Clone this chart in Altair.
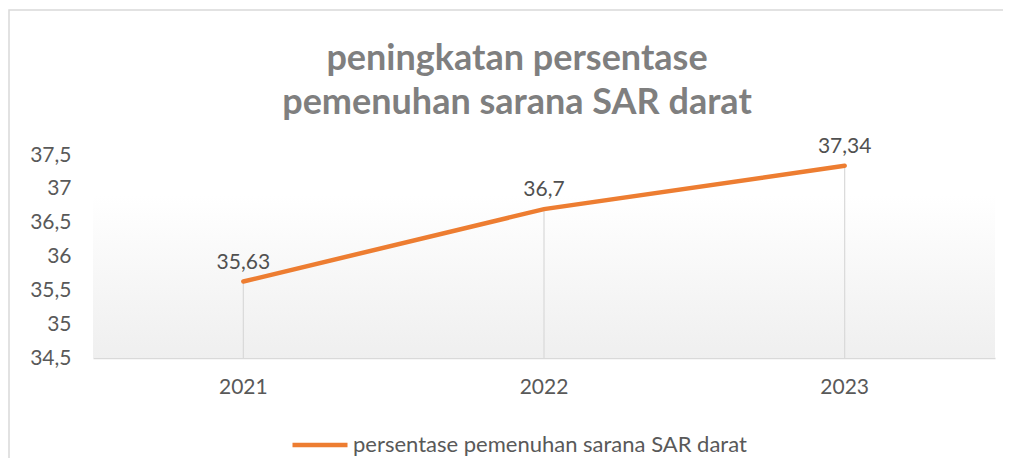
import altair as alt
import pandas as pd

years = ["2021", "2022", "2023"]
values = [35.63, 36.7, 37.34]
series_name = "persentase pemenuhan sarana SAR darat"
y_ticks = [34.5, 35, 35.5, 36, 36.5, 37, 37.5]
title_lines = ["peningkatan persentase", "pemenuhan sarana SAR darat"]

df = pd.DataFrame({"year": years, "value": values, "series": [series_name] * len(years)})
bg = pd.DataFrame({"k": [0]})

W, H = 902, 203
FONT = "Lato"
ORANGE = "#ED7D31"

x_enc = alt.X("year:N", title=None,
              axis=alt.Axis(labelAngle=0, ticks=False, domainColor="#d9d9d9", domainWidth=1.5,
                            labelFontSize=21, labelColor="#595959", labelPadding=18, labelFont=FONT))
y_enc = alt.Y("value:Q", title=None,
              scale=alt.Scale(domain=[34.5, 37.5], nice=False, zero=False),
              axis=alt.Axis(values=y_ticks, grid=False, domain=False, ticks=False,
                            labelFontSize=21, labelColor="#595959", labelPadding=22, labelFont=FONT,
                            labelExpr="replace(format(datum.value, '.1~f'), '.', ',')"))

border = alt.Chart(bg).mark_rect(filled=False, stroke="#d9d9d9", strokeWidth=1.5, clip=False).encode(
    x=alt.value(-84), x2=alt.value(940), y=alt.value(-145), y2=alt.value(340))

grad = alt.Chart(bg).mark_rect(
    color=alt.Gradient(gradient="linear", x1=0, y1=0, x2=0, y2=1,
                       stops=[alt.GradientStop(color="#ffffff", offset=0),
                              alt.GradientStop(color="#ffffff", offset=0.2),
                              alt.GradientStop(color="#efefef", offset=1)])
).encode(x=alt.value(0), x2=alt.value(W), y=alt.value(0), y2=alt.value(H))

base = alt.Chart(df)

drops = base.mark_rule(color="#d9d9d9", strokeWidth=1.2).encode(
    x=x_enc, y=y_enc, y2=alt.value(H))

line = base.mark_line(strokeWidth=4.5, strokeCap="round").encode(
    x=x_enc, y=y_enc,
    color=alt.Color("series:N", scale=alt.Scale(range=[ORANGE]),
                    legend=alt.Legend(title=None, orient="none", legendX=197, legendY=260,
                                      symbolType="stroke", symbolSize=3025, symbolStrokeWidth=4.5,
                                      labelFontSize=22, labelColor="#595959", labelFont=FONT,
                                      labelOffset=3, labelLimit=0)))

labels = base.transform_calculate(
    lbl="replace(toString(datum.value), '.', ',')"
).mark_text(dy=-13, baseline="alphabetic", fontSize=21, font=FONT, color="#505050").encode(
    x=x_enc, y=y_enc, text="lbl:N")

chart = alt.layer(border, grad, drops, line, labels).properties(
    width=W, height=H,
    title=alt.Title(title_lines, anchor="middle", dx=-27, fontSize=36, font=FONT, fontWeight="bold",
                    color="#7f7f7f", lineHeight=44, offset=-113, baseline="top"),
    autosize=alt.AutoSizeParams(type="none"),
    padding={"left": 85, "top": 147, "right": 8, "bottom": 100},
).configure_view(stroke=None)

chart.save("out.html", embed_options={"renderer": "svg", "actions": False})
